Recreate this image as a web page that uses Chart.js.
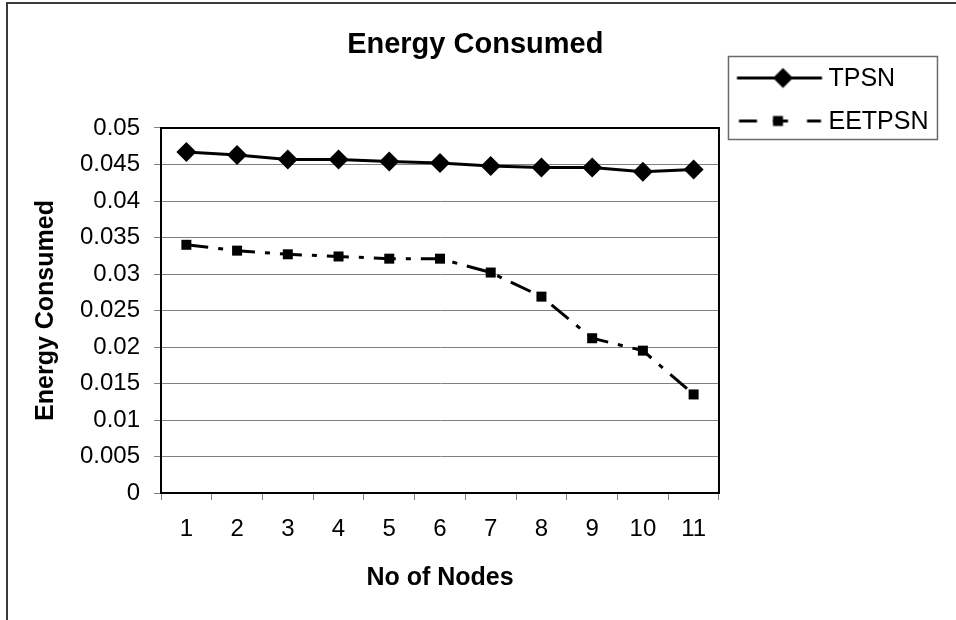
<!DOCTYPE html>
<html><head><meta charset="utf-8">
<script src="https://cdn.jsdelivr.net/npm/chart.js@4.4.1/dist/chart.umd.min.js"></script>
<style>html,body{margin:0;padding:0;background:#fff}canvas{display:block}</style>
</head><body>
<canvas id="c" width="956" height="620"></canvas>
<script>
const categories = ['1','2','3','4','5','6','7','8','9','10','11'];
const tpsn = [0.0467, 0.0463, 0.0457, 0.0457, 0.0454, 0.0452, 0.0448, 0.0446, 0.0446, 0.0440, 0.0443];
const eetpsn = [0.0340, 0.0332, 0.0327, 0.0324, 0.0321, 0.0321, 0.0302, 0.0269, 0.0212, 0.0195, 0.0135];
const yTickLabels = ['0','0.005','0.01','0.015','0.02','0.025','0.03','0.035','0.04','0.045','0.05'];
const seriesNames = ['TPSN','EETPSN'];
const chartTitle = 'Energy Consumed';
const xTitle = 'No of Nodes';
const yTitle = 'Energy Consumed';

const FAM = "'Liberation Sans', Arial, Helvetica, sans-serif";

function sampleCanvas(kind){
  const c = document.createElement('canvas'); c.width = 100; c.height = 30;
  const g = c.getContext('2d');
  const o = 10.5, cy = 13.5;
  g.strokeStyle = '#000'; g.fillStyle = '#000'; g.lineWidth = 3;
  if (kind === 0) {
    g.beginPath(); g.moveTo(o, cy); g.lineTo(o + 85, cy); g.stroke();
    const cx = o + 46, r = 10;
    g.beginPath(); g.moveTo(cx - r, cy); g.lineTo(cx, cy - r); g.lineTo(cx + r, cy); g.lineTo(cx, cy + r); g.closePath(); g.fill();
  } else {
    [[2,20],[36,51],[70,84]].forEach(([a,b]) => { g.beginPath(); g.moveTo(o + a, cy); g.lineTo(o + b, cy); g.stroke(); });
    g.fillRect(o + 41 - 5, cy - 5, 10, 10);
  }
  return c;
}
const samples = [sampleCanvas(0), sampleCanvas(1)];

const decor = {
  id: 'decor',
  beforeDraw(chart){
    const ctx = chart.ctx; ctx.save();
    ctx.fillStyle = '#fff'; ctx.fillRect(0, 0, chart.width, chart.height);
    ctx.strokeStyle = '#3a3a3a'; ctx.lineWidth = 2;
    ctx.strokeRect(7, 3, chart.width + 20, chart.height + 20);
    ctx.restore();
  },
  beforeDatasetsDraw(chart){
    const a = chart.chartArea, ctx = chart.ctx; ctx.save();
    ctx.strokeStyle = '#000'; ctx.lineWidth = 2;
    ctx.strokeRect(a.left, a.top, a.right - a.left, a.bottom - a.top);
    ctx.restore();
  },
  afterDraw(chart){
    const L = chart.legend, ctx = chart.ctx; ctx.save();
    ctx.strokeStyle = '#6a6a6a'; ctx.lineWidth = 1.5;
    ctx.strokeRect(L.left + 9.5, L.top + 56.5, 209, 83);
    ctx.restore();
  }
};

new Chart(document.getElementById('c'), {
  type: 'line',
  data: {
    labels: categories,
    datasets: [
      { label: seriesNames[0], data: tpsn, borderColor: '#000', borderWidth: 3, tension: 0,
        pointStyle: 'rectRot', pointRadius: 10, pointBackgroundColor: '#000', pointBorderColor: '#000', pointBorderWidth: 0 },
      { label: seriesNames[1], data: eetpsn, borderColor: '#000', borderWidth: 3, tension: 0, borderDash: [22,10,5,10],
        pointStyle: 'rect', pointRadius: 7.07, pointBackgroundColor: '#000', pointBorderColor: '#000', pointBorderWidth: 0 }
    ]
  },
  options: {
    responsive: false, animation: false, devicePixelRatio: 1,
    layout: { padding: { left: 12, right: 17.5, top: 0, bottom: 0 } },
    plugins: {
      title: { display: true, text: chartTitle, color: '#000',
        font: { family: FAM, size: 29, weight: 'bold', lineHeight: 1.2 }, padding: { top: 27.6, bottom: 65.6 } },
      legend: { position: 'right', align: 'start',
        title: { display: true, text: ' ', font: { size: 1, lineHeight: 1.2 }, padding: { top: 47.8, bottom: 0 } },
        labels: { usePointStyle: true, pointStyleWidth: 79, padding: 18, color: '#000',
          font: { family: FAM, size: 25, lineHeight: 0.88 },
          generateLabels: (chart) => chart.data.datasets.map((d, i) => ({
            text: d.label, pointStyle: samples[i], datasetIndex: i, hidden: false,
            lineWidth: 0, strokeStyle: 'transparent', fillStyle: 'transparent', fontColor: '#000'
          }))
        }
      },
      tooltip: { enabled: false }
    },
    scales: {
      x: { type: 'category', offset: true,
        grid: { offset: true, drawOnChartArea: false, drawTicks: true, tickLength: 7, color: '#808080' },
        border: { display: true, color: '#000', width: 2 },
        ticks: { font: { family: FAM, size: 24 }, color: '#000', padding: 15, maxRotation: 0, autoSkip: false },
        title: { display: true, text: xTitle, color: '#000', font: { family: FAM, size: 25, weight: 'bold', lineHeight: 1.2 }, padding: { top: 0, bottom: 27 } },
        afterFit(s){ s.height = 127; }
      },
      y: { min: 0, max: 0.05,
        grid: { color: '#808080', tickLength: 7, lineWidth: 1 },
        border: { display: true, color: '#000', width: 2 },
        ticks: { stepSize: 0.005, font: { family: FAM, size: 24 }, color: '#000', padding: 14,
          callback: (v) => yTickLabels[Math.round(v / 0.005)] },
        title: { display: true, text: yTitle, color: '#000', font: { family: FAM, size: 25, weight: 'bold', lineHeight: 1.2 }, padding: { top: 19, bottom: 0 } },
        afterFit(s){ s.width = 149; }
      }
    }
  },
  plugins: [decor]
});
</script>
</body></html>
